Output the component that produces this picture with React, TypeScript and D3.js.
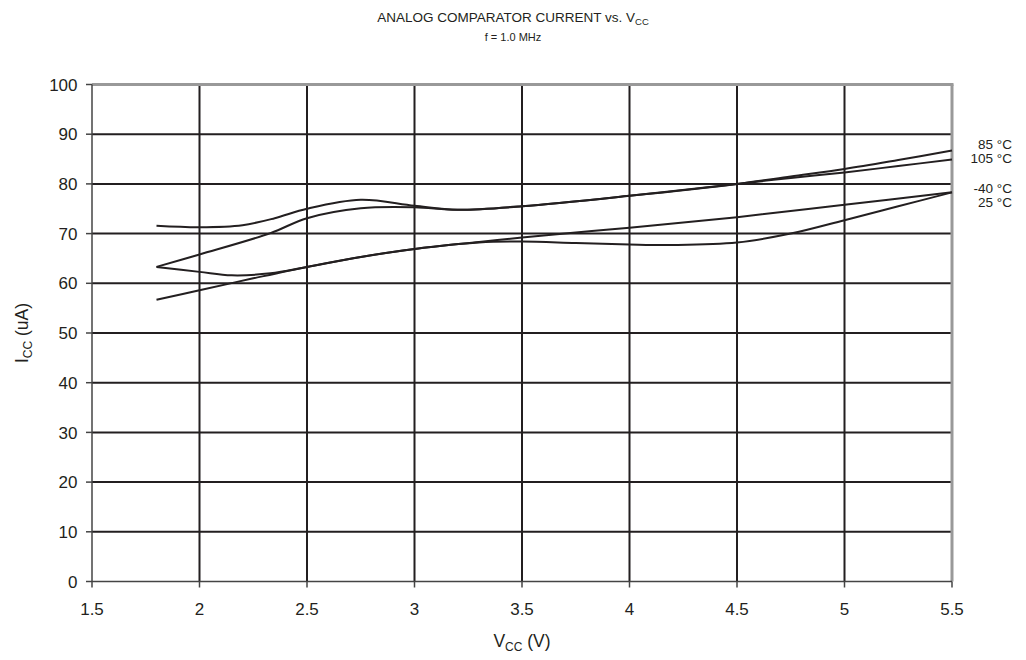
import React from "react";
import * as d3 from "d3";

const xTicks = [1.5, 2, 2.5, 3, 3.5, 4, 4.5, 5, 5.5];
const yTicks = [0, 10, 20, 30, 40, 50, 60, 70, 80, 90, 100];

const vcc85 = [1.8, 2.0, 2.2, 2.35, 2.5, 2.75, 3.0, 3.2, 3.5, 4.0, 4.5, 4.75, 5.0, 5.25, 5.5];
const icc85 = [71.6, 71.3, 71.7, 73.1, 75.0, 76.8, 75.6, 74.8, 75.5, 77.6, 80.0, 81.5, 83.0, 84.8, 86.7];

const vcc105 = [1.8, 2.0, 2.33, 2.5, 2.75, 3.0, 3.2, 3.5, 4.0, 4.5, 4.75, 5.0, 5.25, 5.5];
const icc105 = [63.3, 65.8, 70.1, 73.1, 75.1, 75.3, 74.8, 75.5, 77.6, 80.0, 81.2, 82.3, 83.6, 84.9];

const vccM40 = [1.8, 2.0, 2.25, 2.5, 2.75, 3.0, 3.3, 3.5, 4.0, 4.5, 5.0, 5.5];
const iccM40 = [56.7, 58.6, 61.0, 63.3, 65.3, 66.9, 68.3, 69.2, 71.2, 73.3, 75.8, 78.3];

const vcc25 = [1.8, 2.0, 2.15, 2.33, 2.5, 2.75, 3.0, 3.3, 3.5, 3.75, 4.0, 4.2, 4.5, 4.75, 5.0, 5.25, 5.5];
const icc25 = [63.3, 62.3, 61.6, 62.0, 63.3, 65.3, 66.9, 68.2, 68.4, 68.1, 67.8, 67.7, 68.2, 70.0, 72.7, 75.5, 78.3];

const seriesLabels = ["85 °C", "105 °C", "-40 °C", "25 °C"];

const FONT = "'Liberation Sans', Arial, sans-serif";
const INK = "#231f20";

export default function App() {
  const W = 1026, H = 660;
  const x = d3.scaleLinear().domain([1.5, 5.5]).range([92, 952]);
  const y = d3.scaleLinear().domain([0, 100]).range([581.5, 84.5]);

  const series = [
    { v: vcc85, i: icc85 },
    { v: vcc105, i: icc105 },
    { v: vccM40, i: iccM40 },
    { v: vcc25, i: icc25 },
  ];
  const line = d3
    .line<[number, number]>()
    .x((d) => x(d[0]))
    .y((d) => y(d[1]))
    .curve(d3.curveCatmullRom.alpha(0.5));

  const labelY = [149, 162.5, 192.5, 206.5];

  return (
    <svg
      width={W}
      height={H}
      style={{ position: "absolute", left: 0, top: 0, background: "#fff" }}
      fontFamily={FONT}
    >
      <rect x={0} y={0} width={W} height={H} fill="#fff" />
      {/* title */}
      <text x={513} y={22} textAnchor="middle" fontSize={13.5} fill={INK}>
        ANALOG COMPARATOR CURRENT vs. V
        <tspan fontSize={9.5} dy={3}>CC</tspan>
      </text>
      <text x={513} y={41} textAnchor="middle" fontSize={11} fill={INK}>
        f = 1.0 MHz
      </text>

      {/* horizontal grid */}
      {yTicks.filter((t) => t > 0 && t < 100).map((t) => (
        <line key={"h" + t} x1={x(1.5)} x2={x(5.5)} y1={y(t)} y2={y(t)} stroke={INK} strokeWidth={2} />
      ))}
      {/* vertical grid */}
      {xTicks.filter((t) => t > 1.5 && t < 5.5).map((t) => (
        <line key={"v" + t} x1={x(t)} x2={x(t)} y1={y(0)} y2={y(100)} stroke={INK} strokeWidth={2} />
      ))}
      {/* top and right border */}
      <line x1={x(1.5)} x2={x(5.5) + 1.5} y1={y(100)} y2={y(100)} stroke="#999" strokeWidth={3} />
      <line x1={x(5.5)} x2={x(5.5)} y1={y(100)} y2={y(0)} stroke="#999" strokeWidth={3} />
      {/* axes */}
      <line x1={x(1.5)} x2={x(1.5)} y1={y(0)} y2={y(100)} stroke="#444" strokeWidth={1.5} />
      <line x1={x(1.5)} x2={x(5.5)} y1={y(0)} y2={y(0)} stroke="#444" strokeWidth={1.5} />
      {yTicks.map((t) => (
        <g key={"yt" + t}>
          <line x1={x(1.5) - 6} x2={x(1.5)} y1={y(t)} y2={y(t)} stroke="#444" strokeWidth={1.5} />
          <text x={x(1.5) - 14.5} y={y(t)} dy="0.36em" textAnchor="end" fontSize={17} fill={INK}>
            {t}
          </text>
        </g>
      ))}
      {xTicks.map((t) => (
        <g key={"xt" + t}>
          <line x1={x(t)} x2={x(t)} y1={y(0)} y2={y(0) + 6} stroke="#444" strokeWidth={1.5} />
          <text x={x(t)} y={y(0) + 33} textAnchor="middle" fontSize={17} fill={INK}>
            {t}
          </text>
        </g>
      ))}

      {/* axis titles */}
      <text x={522} y={647} textAnchor="middle" fontSize={17.5} fill={INK}>
        V<tspan fontSize={12} dy={4}>CC</tspan>
        <tspan dy={-4}> (V)</tspan>
      </text>
      <text
        transform={`translate(28, 333) rotate(-90)`}
        textAnchor="middle"
        fontSize={17.5}
        fill={INK}
      >
        I<tspan fontSize={12} dy={4}>CC</tspan>
        <tspan dy={-4}> (uA)</tspan>
      </text>

      {/* curves */}
      {series.map((s, k) => (
        <path
          key={"s" + k}
          d={line(s.v.map((v, j) => [v, s.i[j]] as [number, number])) || ""}
          fill="none"
          stroke={INK}
          strokeWidth={2}
        />
      ))}

      {/* series labels */}
      {seriesLabels.map((l, k) => (
        <text key={"l" + k} x={1012} y={labelY[k]} textAnchor="end" fontSize={13.5} fill={INK}>
          {l}
        </text>
      ))}
    </svg>
  );
}
